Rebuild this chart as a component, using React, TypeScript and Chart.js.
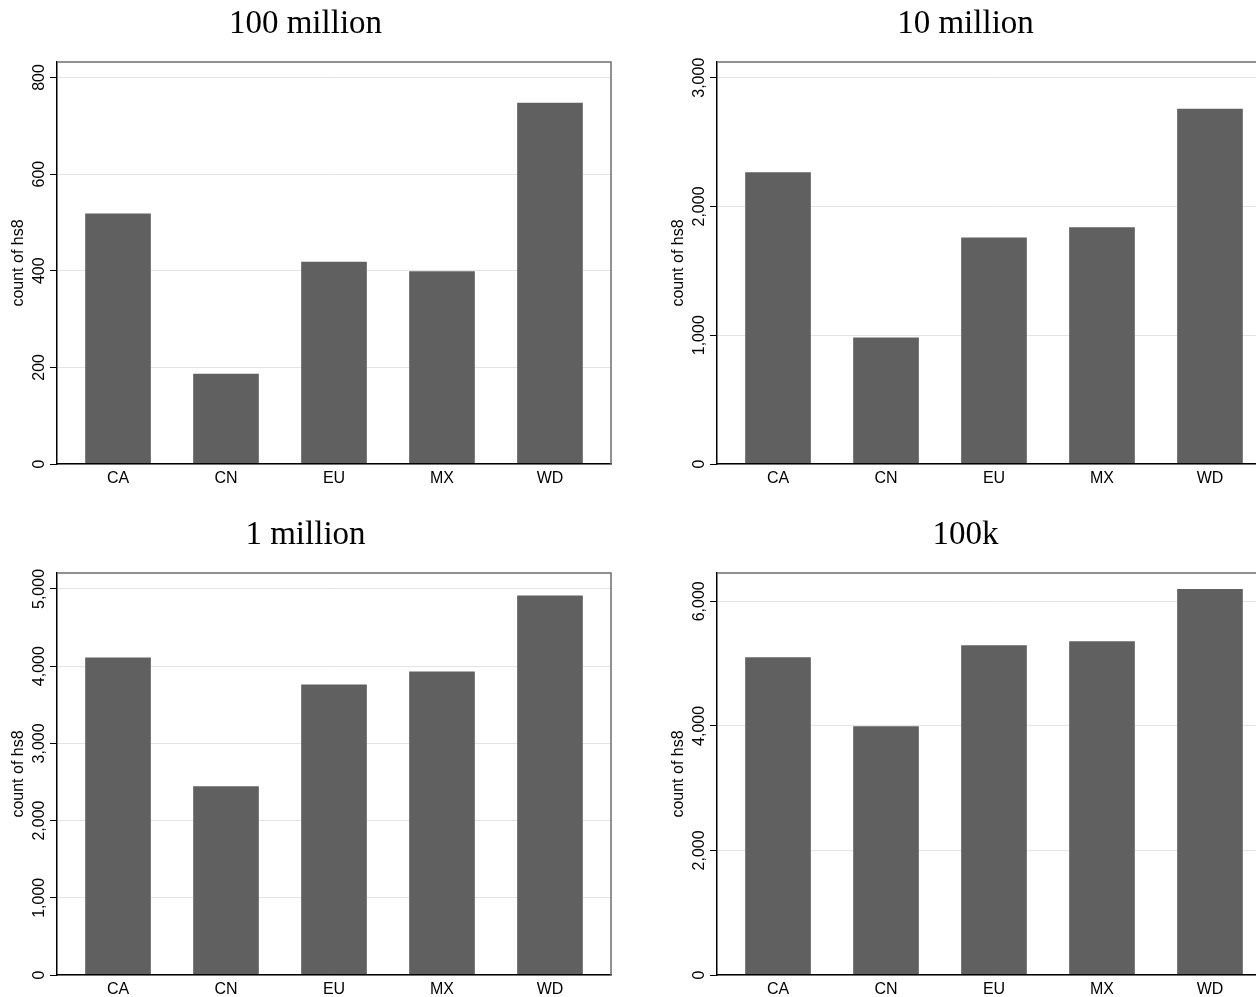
import React, { useEffect, useRef } from 'react';
import { Chart, registerables } from 'chart.js';

Chart.register(...registerables);

const CATEGORIES = ['CA', 'CN', 'EU', 'MX', 'WD'];
const PANEL_TITLES = ['100 million', '10 million', '1 million', '100k'];
const VALUES_100M = [518, 186, 418, 398, 747];
const VALUES_10M = [2264, 979, 1756, 1837, 2757];
const VALUES_1M = [4109, 2442, 3760, 3928, 4910];
const VALUES_100K = [5096, 3990, 5288, 5353, 6191];
const Y_MAX = [832, 3122, 5207, 6455];
const TICKS_100M = [0, 200, 400, 600, 800];
const TICKS_10M = [0, 1000, 2000, 3000];
const TICKS_1M = [0, 1000, 2000, 3000, 4000, 5000];
const TICKS_100K = [0, 2000, 4000, 6000];
const Y_LABEL = 'count of hs8';

const PANEL_W = 620;
const PANEL_H = 490;
const SANS = '"Liberation Sans", Arial, Helvetica, sans-serif';

const framePlugin = {
  id: 'stataFrame',
  afterDraw(chart: any) {
    const { ctx, chartArea: a } = chart;
    ctx.save();
    ctx.strokeStyle = '#6e6e6e';
    ctx.lineWidth = 1.5;
    ctx.beginPath();
    ctx.moveTo(a.left, a.top);
    ctx.lineTo(a.right, a.top);
    ctx.lineTo(a.right, a.bottom);
    ctx.stroke();
    const ys = chart.scales.y;
    ctx.fillStyle = '#000';
    ctx.font = '16px ' + SANS;
    ctx.textAlign = 'center';
    ctx.textBaseline = 'alphabetic';
    ys.ticks.forEach((t: any) => {
      const y = ys.getPixelForValue(t.value);
      ctx.save();
      ctx.translate(a.left - 13.5, y);
      ctx.rotate(-Math.PI / 2);
      ctx.fillText(Number(t.value).toLocaleString('en-US'), 0, 0);
      ctx.restore();
    });
    ctx.restore();
  },
};

function Panel(props: { title: string; values: number[]; yMax: number; yTicks: number[]; left: number; top: number }) {
  const ref = useRef<HTMLCanvasElement | null>(null);
  useEffect(() => {
    if (!ref.current) return;
    const chart = new Chart(ref.current, {
      type: 'bar',
      data: {
        datasets: [
          {
            data: props.values.map((v, i) => ({ x: i, y: v })),
            backgroundColor: '#606060',
            borderWidth: 0,
            barThickness: 65,
          },
        ],
      },
      options: {
        animation: false,
        responsive: false,
        devicePixelRatio: 1,
        layout: { padding: { left: 0, right: 9, top: 0, bottom: 0 } },
        plugins: {
          legend: { display: false },
          tooltip: { enabled: false },
          title: {
            display: true,
            text: props.title,
            color: '#000',
            font: { family: '"Liberation Serif", "Times New Roman", serif', size: 33, weight: 'normal', lineHeight: 1.2 },
            padding: { top: 4.5, bottom: 17.9 },
          },
        },
        scales: {
          x: {
            type: 'linear',
            offset: false,
            min: -0.565,
            max: CATEGORIES.length - 1 + 0.565,
            afterFit: (s: any) => { s.height = PANEL_H - 464; },
            afterBuildTicks: (s: any) => { s.ticks = CATEGORIES.map((_, i) => ({ value: i })); },
            grid: { display: false, drawTicks: false },
            border: { display: true, color: '#000', width: 1.5, z: 1 },
            ticks: {
              autoSkip: false,
              maxRotation: 0,
              minRotation: 0,
              padding: 5,
              color: '#000',
              font: { family: SANS, size: 16 },
              callback: (v: any) => (Number.isInteger(v) ? CATEGORIES[v] : ''),
            },
          },
          y: {
            type: 'linear',
            min: 0,
            max: props.yMax,
            afterFit: (s: any) => { s.width = 57; },
            afterBuildTicks: (s: any) => { s.ticks = props.yTicks.map((v) => ({ value: v })); },
            grid: { color: '#e4e4e4', lineWidth: 1, tickLength: 7, tickColor: '#000', tickWidth: 1, drawTicks: true },
            border: { display: true, color: '#000', width: 1.5, z: 1 },
            ticks: { display: false },
            title: {
              display: true,
              text: Y_LABEL,
              color: '#000',
              font: { family: SANS, size: 16, lineHeight: 1.2 },
              padding: { top: 9, bottom: 0 },
            },
          },
        },
      } as any,
      plugins: [framePlugin],
    });
    return () => chart.destroy();
  }, []);
  return (
    <div style={{ position: 'absolute', left: props.left, top: props.top, width: PANEL_W, height: PANEL_H }}>
      <canvas ref={ref} width={PANEL_W} height={PANEL_H} style={{ width: PANEL_W, height: PANEL_H, display: 'block' }} />
    </div>
  );
}

export default function App() {
  return (
    <div style={{ position: 'fixed', left: 0, top: 0, width: 1256, height: 997, overflow: 'hidden', background: '#fff' }}>
      <Panel title={PANEL_TITLES[0]} values={VALUES_100M} yMax={Y_MAX[0]} yTicks={TICKS_100M} left={0} top={0} />
      <Panel title={PANEL_TITLES[1]} values={VALUES_10M} yMax={Y_MAX[1]} yTicks={TICKS_10M} left={660} top={0} />
      <Panel title={PANEL_TITLES[2]} values={VALUES_1M} yMax={Y_MAX[2]} yTicks={TICKS_1M} left={0} top={511} />
      <Panel title={PANEL_TITLES[3]} values={VALUES_100K} yMax={Y_MAX[3]} yTicks={TICKS_100K} left={660} top={511} />
    </div>
  );
}
